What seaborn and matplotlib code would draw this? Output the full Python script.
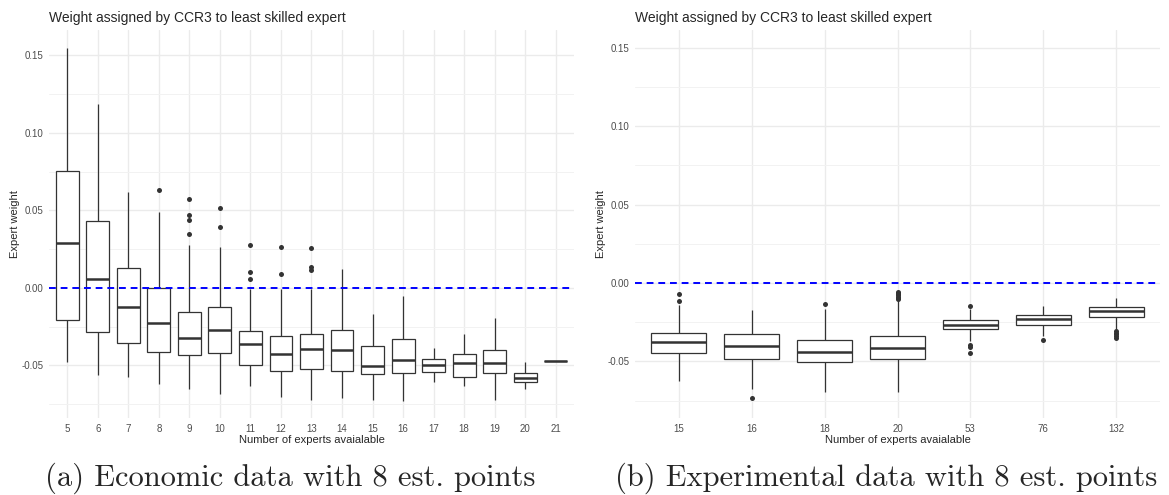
import matplotlib
matplotlib.use("Agg")
import matplotlib.pyplot as plt
from matplotlib.ticker import MultipleLocator, FuncFormatter
import pandas as pd
import seaborn as sns

# Box statistics (whisker low, Q1, median, Q3, whisker high)
econ_groups = ["5", "6", "7", "8", "9", "10", "11", "12", "13", "14",
               "15", "16", "17", "18", "19", "20", "21"]
econ_lo = [-0.048, -0.0562, -0.0575, -0.0618, -0.0654, -0.0684, -0.0631, -0.0706, -0.0721,
           -0.0712, -0.0723, -0.0731, -0.0609, -0.0633, -0.0725, -0.0652, -0.047]
econ_q1 = [-0.0204, -0.0285, -0.0354, -0.0414, -0.0433, -0.0418, -0.050, -0.0536, -0.0521,
           -0.0538, -0.0558, -0.0551, -0.0543, -0.0575, -0.0551, -0.0609, -0.047]
econ_med = [0.0287, 0.0058, -0.012, -0.0223, -0.0324, -0.0272, -0.0363, -0.0425, -0.0395,
            -0.0403, -0.0506, -0.0468, -0.0495, -0.0483, -0.0483, -0.0581, -0.047]
econ_q3 = [0.0755, 0.0429, 0.0131, 0.0, -0.0154, -0.0122, -0.0279, -0.0309, -0.0294,
           -0.027, -0.0373, -0.0332, -0.0461, -0.0429, -0.0403, -0.0547, -0.047]
econ_hi = [0.155, 0.1184, 0.0622, 0.0487, 0.0275, 0.0262, -0.001, -0.0006, -0.0004,
           0.0124, -0.0169, -0.0054, -0.0388, -0.030, -0.0191, -0.0478, -0.047]
econ_out = {"8": [0.063], "9": [0.0571, 0.047, 0.044, 0.0345], "10": [0.0513, 0.0395],
            "11": [0.0275, 0.0101, 0.0056], "12": [0.0262, 0.0092],
            "13": [0.026, 0.0137, 0.0114]}

exp_groups = ["15", "16", "18", "20", "53", "76", "132"]
exp_lo = [-0.0623, -0.0678, -0.0693, -0.0693, -0.0372, -0.0338, -0.030]
exp_q1 = [-0.0446, -0.0482, -0.0506, -0.0487, -0.0295, -0.0266, -0.0217]
exp_med = [-0.0376, -0.040, -0.0442, -0.0415, -0.0266, -0.023, -0.0181]
exp_q3 = [-0.0317, -0.0323, -0.0366, -0.0338, -0.0238, -0.0202, -0.0153]
exp_hi = [-0.0142, -0.0172, -0.0164, -0.0113, -0.0168, -0.0145, -0.0096]
exp_out = {"15": [-0.0072, -0.0115], "16": [-0.0731], "18": [-0.0134],
           "20": [-0.0057, -0.0064, -0.0072, -0.0079, -0.0087, -0.0094, -0.0102],
           "53": [-0.0145, -0.0398, -0.0406, -0.0446], "76": [-0.0366],
           "132": [-0.0308, -0.0316, -0.0325, -0.0335, -0.0349]}


def to_frames(groups, lo, q1, med, q3, hi, out):
    rows = []
    for i, g in enumerate(groups):
        for v in (lo[i], q1[i], med[i], q3[i], hi[i]):
            rows.append({"n": g, "w": v})
    pts = [{"n": g, "w": v} for g, vals in out.items() for v in vals]
    return pd.DataFrame(rows), pd.DataFrame(pts)


sns.set_theme(style="whitegrid")
plt.rcParams["font.family"] = ["Liberation Sans", "DejaVu Sans"]

fig = plt.figure(figsize=(11.69, 4.95), dpi=100)
ax1 = fig.add_axes([49 / 1169, 77 / 495, 525 / 1169, 388 / 495])
ax2 = fig.add_axes([635 / 1169, 77 / 495, 525 / 1169, 388 / 495])

panels = [
    (ax1, econ_groups, econ_lo, econ_q1, econ_med, econ_q3, econ_hi, econ_out, (-0.0839, 0.1664)),
    (ax2, exp_groups, exp_lo, exp_q1, exp_med, exp_q3, exp_hi, exp_out, (-0.0861, 0.1614)),
]

for ax, groups, lo, q1, med, q3, hi, out, ylim in panels:
    box_df, pt_df = to_frames(groups, lo, q1, med, q3, hi, out)
    sns.boxplot(data=box_df, x="n", y="w", order=groups, ax=ax, whis=(0, 100),
                showfliers=False, width=0.75, color="white", linecolor="#333333",
                linewidth=0.9, medianprops={"linewidth": 1.8},
                capprops={"linewidth": 0})
    sns.stripplot(data=pt_df, x="n", y="w", order=groups, ax=ax, jitter=False,
                  color="#333333", size=3.6, linewidth=0)
    ax.axhline(0, color="blue", lw=1.4, ls=(0, (3.5, 2.5)), zorder=5)

    ax.set_xlim(-0.6, len(groups) - 0.4)
    ax.set_ylim(*ylim)
    ax.yaxis.set_major_locator(MultipleLocator(0.05))
    ax.yaxis.set_minor_locator(MultipleLocator(0.025))
    ax.yaxis.set_major_formatter(FuncFormatter(lambda v, p: f"{v:.2f}".replace("-0.00", "0.00")))
    ax.grid(which="major", color="#EBEBEB", lw=1.0)
    ax.grid(which="minor", axis="y", color="#F2F2F2", lw=0.7)
    ax.set_axisbelow(True)
    for s in ax.spines.values():
        s.set_visible(False)
    ax.tick_params(which="both", length=0, labelsize=7, labelcolor="#4D4D4D", pad=4)
    ax.set_xlabel("Number of experts avaialable", fontsize=8, labelpad=1)
    ax.set_ylabel("Expert weight", fontsize=8, labelpad=1)
    ax.set_title("Weight assigned by CCR3 to least skilled expert", fontsize=10,
                 loc="left", pad=6)

fig.text(290 / 1169, 1 - 478 / 495, "(a) Economic data with 8 est. points",
         family="cmr10", fontsize=22, ha="center", va="center")
fig.text(886 / 1169, 1 - 478 / 495, "(b) Experimental data with 8 est. points",
         family="cmr10", fontsize=22, ha="center", va="center")

fig.savefig("out.png", dpi=100)
